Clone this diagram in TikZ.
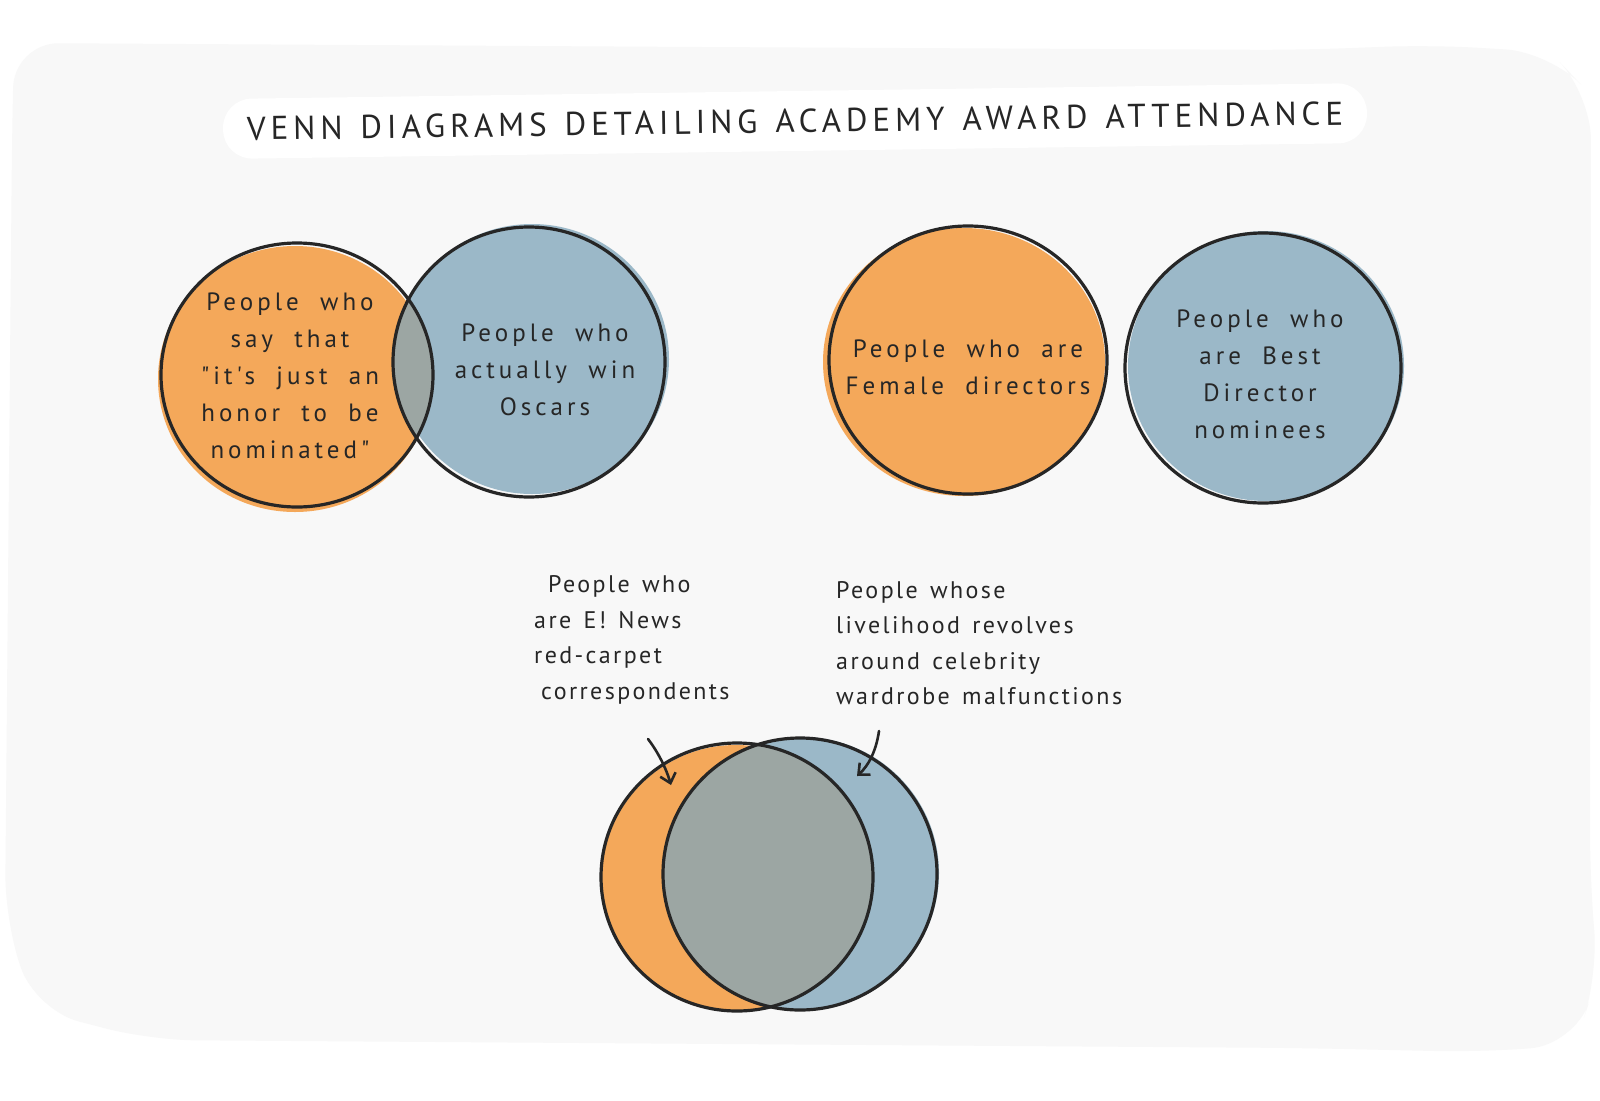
\documentclass[tikz,border=0pt]{standalone}
\usepackage{fontspec}
\setmainfont{PT Sans}
\newfontfamily\handfont[LetterSpace=16,WordSpace=2]{PT Sans}
\newfontfamily\labelfont[LetterSpace=10,WordSpace=1.4]{PT Sans}
\newfontfamily\titlefont[LetterSpace=15,WordSpace=1.3]{PT Sans}
\usetikzlibrary{arrows.meta}
\definecolor{panelc}{HTML}{F8F8F8}
\definecolor{orangec}{HTML}{F4A85A}
\definecolor{bluec}{HTML}{9BB8C8}
\definecolor{lensc}{HTML}{9CA6A3}
\definecolor{inkc}{HTML}{262626}
\tikzset{
  outline/.style={draw=inkc, line width=3.2pt},
  handtext/.style={font=\handfont\fontsize{25}{37}\selectfont, text=inkc, align=center, inner sep=0pt},
  labeltext/.style={font=\labelfont\fontsize{24}{35.5}\selectfont, text=inkc, align=left, inner sep=0pt, anchor=west},
  pointer/.style={draw=inkc, line width=2.6pt, line cap=round, -{Straight Barb[length=9pt,width=16pt,line width=2.6pt]}},
}
\begin{document}
\begin{tikzpicture}[x=1pt,y=-1pt]
\useasboundingbox (0,0) rectangle (1600,1100);
\fill[white] (0,0) rectangle (1600,1100);
% background panel
\fill[panelc, rounded corners=45pt] (14,43) -- (700,47) -- (1300,50) -- (1430,45) -- (1550,52) -- (1591,95) -- (1590,880) -- (1598,975) -- (1575,1045) -- (1480,1052) -- (1300,1048) -- (150,1040) -- (35,1010) -- (5,920) -- (12,140) -- cycle;

% title
\node[fill=white, rounded corners=29pt, minimum width=1144pt, minimum height=60pt, rotate=0.8,
      font=\titlefont\fontsize{33}{33}\selectfont, text=inkc] (title) at (795,121)
  {VENN DIAGRAMS DETAILING ACADEMY AWARD ATTENDANCE};

% ---------- top-left Venn ----------
\fill[orangec] (295,379) ellipse [x radius=137pt, y radius=133pt];
\fill[bluec] (532,359) ellipse [x radius=137pt, y radius=135pt];
\begin{scope}
  \clip (297,375) ellipse [x radius=136pt, y radius=132pt];
  \fill[lensc] (529,362) ellipse [x radius=136pt, y radius=135pt];
\end{scope}
\draw[outline] (297,375) ellipse [x radius=136pt, y radius=132pt];
\draw[outline] (529,362) ellipse [x radius=136pt, y radius=135pt];
\node[handtext] (t1) at (290,376) {People who\\say that\\"it's just an\\honor to be\\nominated"};
\node[handtext] (t2) at (545,370) {People who\\actually win\\Oscars};

% ---------- top-right circles ----------
\fill[orangec] (964,362) ellipse [x radius=141pt, y radius=134pt];
\draw[outline] (968,360) ellipse [x radius=139pt, y radius=134pt];
\fill[bluec] (1266,366) ellipse [x radius=138pt, y radius=135pt];
\draw[outline] (1263,368) ellipse [x radius=138pt, y radius=135pt];
\node[handtext] (t3) at (968,367) {People who are\\Female directors};
\node[handtext] (t4) at (1260,374) {People who\\are Best\\Director\\nominees};

% ---------- bottom Venn ----------
\fill[orangec] (736,878) ellipse [x radius=134pt, y radius=133pt];
\fill[bluec] (802,873) ellipse [x radius=137pt, y radius=136pt];
\begin{scope}
  \clip (737,877) ellipse [x radius=136pt, y radius=134pt];
  \fill[lensc] (800,874) ellipse [x radius=137pt, y radius=136pt];
\end{scope}
\draw[outline] (737,877) ellipse [x radius=136pt, y radius=134pt];
\draw[outline] (800,874) ellipse [x radius=137pt, y radius=136pt];

\node[labeltext] (la) at (534,640) {\hspace*{14pt}People who\\are E! News\\red-carpet\\\hspace*{7pt}correspondents};
\node[labeltext] (lb) at (836,643) {People whose\\livelihood revolves\\around celebrity\\wardrobe malfunctions};

\coordinate (a1s) at (648,739);
\coordinate (a1e) at (671,785);
\coordinate (a2s) at (879,731);
\coordinate (a2e) at (857,776);
\draw[pointer] (a1s) .. controls (658,752) and (666,768) .. (a1e);
\draw[pointer] (a2s) .. controls (876,752) and (868,766) .. (a2e);
\end{tikzpicture}
\end{document}
